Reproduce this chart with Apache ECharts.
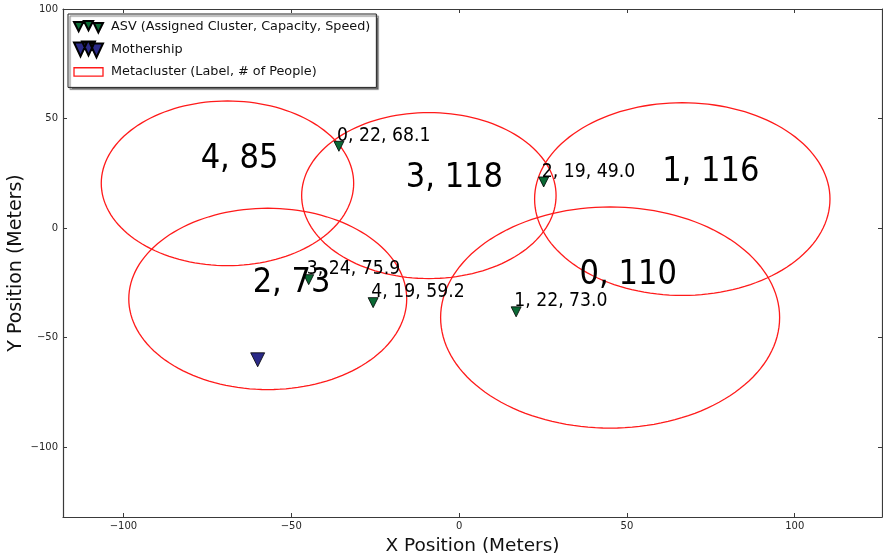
<!DOCTYPE html>
<html><head><meta charset="utf-8">
<script src="https://cdn.jsdelivr.net/npm/echarts@6/dist/echarts.min.js"></script>
<style>html,body{margin:0;padding:0;background:#fff}#c{width:883px;height:560px}</style>
</head><body><div id="c"></div>
<script>
// axis ranges and ticks
const xRange = [-118, 126];
const yRange = [-132, 100];
const xTicks = [-100, -50, 0, 50, 100];
const yTicks = [-100, -50, 0, 50, 100];

// metaclusters (circles in data space)
const clusterLabel  = [4, 3, 1, 0, 2];
const clusterPeople = [85, 118, 116, 110, 73];
const clusterCX = [-69, -9, 66.5, 45, -57];
const clusterCY = [20.4, 14.8, 13.2, -40.9, -32.4];
const clusterR  = [37.6, 37.9, 44, 50.5, 41.4];
const labelX = [-65.4, -1.4, 75.0, 50.4, -49.9];
const labelY = [31.3, 22.6, 25.7, -21.5, -25.2];

// ASVs
const asvX = [-35.8, 25.2, -44.8, -25.6, 17.0];
const asvY = [37.3, 21.0, -23.6, -34.1, -38.3];
const asvCluster  = [0, 2, 3, 4, 1];
const asvCapacity = [22, 19, 24, 19, 22];
const asvSpeed    = [68.1, 49.0, 75.9, 59.2, 73.0];

// mothership
const motherX = [-60];
const motherY = [-60.2];

const FONT = 'DejaVu Sans';
const AXIS_COLOR = '#3a3a3a';
const fmt = v => String(v).replace('-', '\u2212');

function axisBase(range, ticks, extra) {
  return Object.assign({
    type: 'value', min: range[0], max: range[1],
    splitLine: { show: false },
    axisLine: { show: true, onZero: false, lineStyle: { color: AXIS_COLOR, width: 1.2 } },
    axisTick: { show: true, inside: true, length: 4, customValues: ticks, lineStyle: { color: AXIS_COLOR } },
    axisLabel: { show: true, customValues: ticks, formatter: fmt, fontSize: 10, fontFamily: FONT, color: '#262626' }
  }, extra);
}

function renderCircle(params, api) {
  const cx = api.value(0), cy = api.value(1), r = api.value(2);
  const pts = [];
  for (let k = 0; k <= 144; k++) {
    const t = k / 144 * 2 * Math.PI;
    pts.push(api.coord([cx + r * Math.cos(t), cy + r * Math.sin(t)]));
  }
  return { type: 'polyline', shape: { points: pts }, style: { fill: null, stroke: '#ff1a1a', lineWidth: 1.3 } };
}

function renderBig(params, api) {
  const i = params.dataIndex;
  const p = api.coord([api.value(0), api.value(1)]);
  return { type: 'text', x: p[0], y: p[1], scaleX: 0.9,
    style: { text: clusterLabel[i] + ', ' + clusterPeople[i], fontSize: 34, fontFamily: FONT, fill: '#000', align: 'center', verticalAlign: 'middle' } };
}

function renderSmall(params, api) {
  const i = params.dataIndex;
  const p = api.coord([api.value(0), api.value(1)]);
  const fs = 19;
  return { type: 'text', x: p[0] - 2, y: p[1] - 3.7 - 0.346 * fs, scaleX: 0.91,
    style: { text: asvCluster[i] + ', ' + asvCapacity[i] + ', ' + asvSpeed[i].toFixed(1), fontSize: fs, fontFamily: FONT, fill: '#000', align: 'left', verticalAlign: 'middle' } };
}

const ASV_ICON = 'path://M0 1L9 1L4.5 10ZM9.5 0L18.5 0L14 9ZM19 2L28 2L23.5 11Z';
const MOTHER_ICON = 'path://M0 1L13 1L6.5 15ZM8 0L21 0L14.5 14ZM16 2L29 2L22.5 16Z';
const RECT_ICON = 'path://M0 0H28V8H0Z';

const chart = echarts.init(document.getElementById('c'), null, { renderer: 'canvas' });
chart.setOption({
  animation: false,
  backgroundColor: '#fff',
  textStyle: { fontFamily: FONT },
  grid: { left: 63, right: 1, top: 9, bottom: 43, containLabel: false, outerBoundsMode: 'none' },
  xAxis: [
    axisBase(xRange, xTicks, { position: 'bottom', name: 'X Position (Meters)', nameLocation: 'middle', nameGap: 20, nameMoveOverlap: false,
      nameTextStyle: { fontSize: 18.5, fontFamily: FONT, color: '#111' }, axisLabel: { show: true, customValues: xTicks, formatter: fmt, fontSize: 10, fontFamily: FONT, color: '#262626', margin: 4 } }),
    axisBase(xRange, xTicks, { position: 'top', axisLabel: { show: false } })
  ],
  yAxis: [
    axisBase(yRange, yTicks, { position: 'left', name: 'Y Position (Meters)', nameLocation: 'middle', nameGap: 37, nameMoveOverlap: false,
      nameTextStyle: { fontSize: 19, fontFamily: FONT, color: '#111' }, axisLabel: { show: true, customValues: yTicks, formatter: fmt, fontSize: 10, fontFamily: FONT, color: '#262626', margin: 5 } }),
    axisBase(yRange, yTicks, { position: 'right', axisLabel: { show: false } })
  ],
  legend: {
    left: 68, top: 14, orient: 'vertical',
    padding: [6, 6, 9, 5], itemGap: 7, itemWidth: 29, itemHeight: 16,
    backgroundColor: '#fff', borderColor: '#222', borderWidth: 1,
    shadowColor: 'rgba(0,0,0,0.55)', shadowBlur: 1, shadowOffsetX: 2, shadowOffsetY: 2,
    symbolRotate: 0, symbolKeepAspect: true,
    textStyle: { fontSize: 12.8, fontFamily: FONT, color: '#111', padding: [0, 0, 0, 3] },
    data: [
      { name: 'ASV (Assigned Cluster, Capacity, Speed)', icon: ASV_ICON },
      { name: 'Mothership', icon: MOTHER_ICON },
      { name: 'Metacluster (Label, # of People)', icon: RECT_ICON, itemStyle: { color: '#fff', borderColor: '#ff1a1a', borderWidth: 1.3 } }
    ]
  },
  series: [
    {
      name: 'Metacluster (Label, # of People)', type: 'custom', renderItem: renderCircle, silent: true, z: 2,
      itemStyle: { color: '#fff', borderColor: '#ff1a1a' },
      encode: { x: 0, y: 1 },
      data: clusterCX.map((x, i) => [x, clusterCY[i], clusterR[i]])
    },
    {
      name: 'ASV (Assigned Cluster, Capacity, Speed)', type: 'scatter', z: 3,
      symbol: 'triangle', symbolRotate: 180, symbolSize: 10,
      itemStyle: { color: '#0b6a35', borderColor: '#000', borderWidth: 0.8, opacity: 1 },
      data: asvX.map((x, i) => [x, asvY[i]])
    },
    {
      name: 'Mothership', type: 'scatter', z: 3,
      symbol: 'triangle', symbolRotate: 180, symbolSize: 14,
      itemStyle: { color: '#2b2a88', borderColor: '#000', borderWidth: 0.8, opacity: 1 },
      data: motherX.map((x, i) => [x, motherY[i]])
    },
    {
      name: 'clusterText', type: 'custom', renderItem: renderBig, silent: true, z: 4,
      encode: { x: 0, y: 1 },
      data: labelX.map((x, i) => [x, labelY[i]])
    },
    {
      name: 'asvText', type: 'custom', renderItem: renderSmall, silent: true, z: 4,
      encode: { x: 0, y: 1 },
      data: asvX.map((x, i) => [x, asvY[i]])
    }
  ]
});
</script>
</body></html>
